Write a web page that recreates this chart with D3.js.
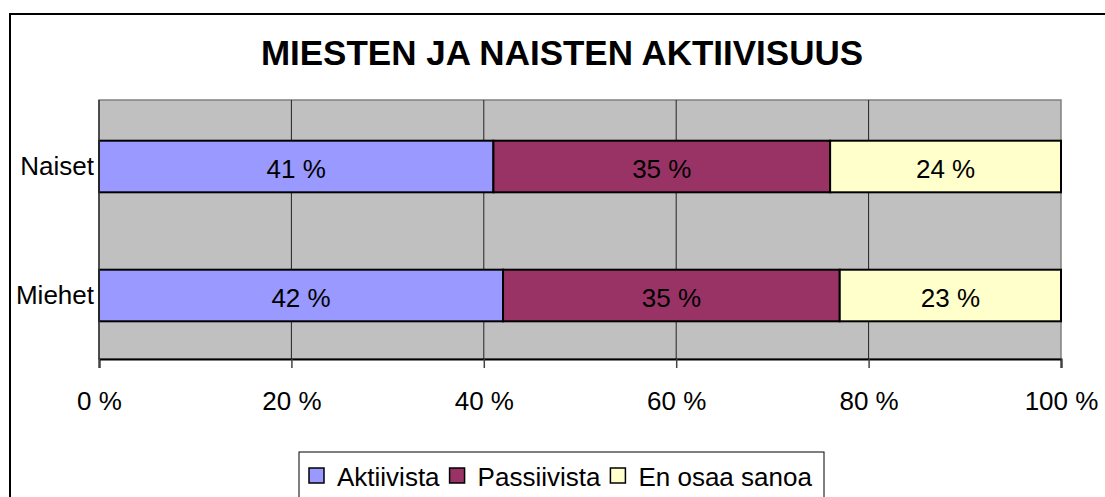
<!DOCTYPE html>
<html>
<head>
<meta charset="utf-8">
<script src="https://cdn.jsdelivr.net/npm/d3@7"></script>
<style>
  html, body { margin: 0; padding: 0; background: #fff; }
  svg { display: block; font-family: "Liberation Sans", Arial, sans-serif; }
</style>
</head>
<body>
<div class="container"></div>
<script>
// Data
const categories = ['Naiset', 'Miehet'];
const seriesNames = ['Aktiivista', 'Passiivista', 'En osaa sanoa'];
const aktiivista = [41, 42];
const passiivista = [35, 35];
const enOsaaSanoa = [24, 23];
const tickValues = [0, 20, 40, 60, 80, 100];
const colors = ['#9999ff', '#993366', '#ffffcc'];
const chartTitle = 'MIESTEN JA NAISTEN AKTIIVISUUS';

const drawChart = () => {
  const width = 1105;
  const height = 497;
  const plot = { left: 99, right: 1061, top: 100, bottom: 359 };
  const fontSize = '26px';

  const svg = d3
    .select('.container')
    .append('svg')
    .attr('width', width)
    .attr('height', height);

  // Outer chart border
  svg
    .append('rect')
    .attr('x', 10)
    .attr('y', 14)
    .attr('width', 1110)
    .attr('height', 500)
    .attr('fill', '#fff')
    .attr('stroke', '#000')
    .attr('stroke-width', 2);

  // Title
  svg
    .append('text')
    .attr('x', 562)
    .attr('y', 65)
    .attr('text-anchor', 'middle')
    .style('font-size', '35px')
    .style('font-weight', 'bold')
    .text(chartTitle);

  const x = d3.scaleLinear().domain([0, 100]).range([plot.left, plot.right]);
  const y = d3
    .scaleBand()
    .domain(categories)
    .range([plot.top + 2, plot.bottom + 1])
    .paddingInner(0.6)
    .paddingOuter(0.3);

  // Plot background
  svg
    .append('rect')
    .attr('x', plot.left)
    .attr('y', plot.top)
    .attr('width', plot.right - plot.left)
    .attr('height', plot.bottom - plot.top)
    .attr('fill', '#c0c0c0')
    .attr('stroke', '#808080')
    .attr('stroke-width', 1.5);

  // Gridlines
  svg
    .selectAll('.grid')
    .data(tickValues.slice(1, -1))
    .enter()
    .append('line')
    .attr('class', 'grid')
    .attr('x1', (d) => x(d))
    .attr('x2', (d) => x(d))
    .attr('y1', plot.top)
    .attr('y2', plot.bottom)
    .attr('stroke', '#222')
    .attr('stroke-width', 1);

  // Stacked data
  const rows = categories.map((c, i) => ({
    category: c,
    Aktiivista: aktiivista[i],
    Passiivista: passiivista[i],
    'En osaa sanoa': enOsaaSanoa[i],
  }));
  const stacked = d3.stack().keys(seriesNames)(rows);

  const layer = svg
    .selectAll('.layer')
    .data(stacked)
    .enter()
    .append('g')
    .attr('class', 'layer')
    .attr('fill', (d, i) => colors[i]);

  layer
    .selectAll('rect')
    .data((d) => d)
    .enter()
    .append('rect')
    .attr('x', (d) => x(d[0]))
    .attr('y', (d) => y(d.data.category))
    .attr('width', (d) => x(d[1]) - x(d[0]))
    .attr('height', y.bandwidth())
    .attr('stroke', '#000')
    .attr('stroke-width', 2);

  layer
    .selectAll('text')
    .data((d) => d)
    .enter()
    .append('text')
    .attr('x', (d) => (x(d[0]) + x(d[1])) / 2)
    .attr('y', (d) => y(d.data.category) + y.bandwidth() / 2 + 11)
    .attr('text-anchor', 'middle')
    .attr('fill', '#000')
    .style('font-size', fontSize)
    .text((d) => `${d[1] - d[0]} %`);

  // X axis
  const xAxis = d3
    .axisBottom(x)
    .tickValues(tickValues)
    .tickSize(9)
    .tickPadding(24)
    .tickFormat((d) => `${d} %`);

  const gx = svg
    .append('g')
    .attr('transform', `translate(0, ${plot.bottom})`)
    .call(xAxis);
  gx.select('.domain').attr('stroke', '#000').attr('stroke-width', 2);
  gx.selectAll('.tick line').attr('stroke', '#444').attr('stroke-width', 1.5);
  gx.selectAll('.tick text')
    .attr('fill', '#000')
    .style('font-size', fontSize)
    .style('font-family', '"Liberation Sans", Arial, sans-serif');

  // Left axis line
  svg
    .append('line')
    .attr('x1', plot.left)
    .attr('x2', plot.left)
    .attr('y1', plot.top)
    .attr('y2', plot.bottom)
    .attr('stroke', '#333')
    .attr('stroke-width', 1.5);

  // Category labels
  svg
    .selectAll('.cat')
    .data(categories)
    .enter()
    .append('text')
    .attr('class', 'cat')
    .attr('x', plot.left - 5)
    .attr('y', (d) => y(d) + y.bandwidth() / 2 + 8)
    .attr('text-anchor', 'end')
    .style('font-size', fontSize)
    .text((d) => d);

  // Legend
  const legend = svg.append('g');
  legend
    .append('rect')
    .attr('x', 299)
    .attr('y', 452)
    .attr('width', 525)
    .attr('height', 60)
    .attr('fill', '#fff')
    .attr('stroke', '#000')
    .attr('stroke-width', 1);

  let lx = 309;
  seriesNames.forEach((name, i) => {
    legend
      .append('rect')
      .attr('x', lx)
      .attr('y', 468)
      .attr('width', 15)
      .attr('height', 15)
      .attr('fill', colors[i])
      .attr('stroke', '#000')
      .attr('stroke-width', 1.5);
    const t = legend
      .append('text')
      .attr('x', lx + 28)
      .attr('y', 486)
      .style('font-size', fontSize)
      .text(name);
    lx += 28 + t.node().getComputedTextLength() + 10;
  });
};

drawChart();
</script>
</body>
</html>
